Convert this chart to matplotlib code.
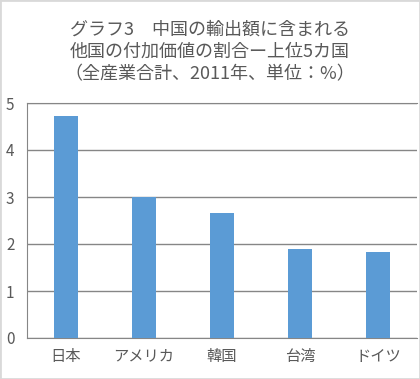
import matplotlib
matplotlib.use("Agg")
import matplotlib.pyplot as plt
from matplotlib.patches import Rectangle

plt.rcParams['font.family'] = ['Noto Sans CJK JP', 'DejaVu Sans']

countries = ["日本", "アメリカ", "韓国", "台湾", "ドイツ"]
shares = [4.73, 2.99, 2.67, 1.90, 1.82]
yticks = [0, 1, 2, 3, 4, 5]

title = "グラフ3　中国の輸出額に含まれる\n他国の付加価値の割合ー上位5カ国\n（全産業合計、2011年、単位：%）"

text_color = "#595959"
bar_color = "#5B9BD5"
grid_color = "#868686"

fig = plt.figure(figsize=(4.2, 3.79), dpi=100)
ax = fig.add_axes([27 / 420, 1 - 338 / 379, 390 / 420, 235 / 379])

x = range(len(countries))
ax.bar(x, shares, width=0.31, color=bar_color, zorder=3)

ax.set_xlim(-0.5, len(countries) - 0.5)
ax.set_ylim(0, 5)
ax.set_yticks(yticks)
ax.set_xticks(list(x))
ax.set_xticklabels(countries)
ax.yaxis.grid(True, color=grid_color, linewidth=1.0, zorder=0)
ax.tick_params(axis='both', length=0, colors=text_color, labelsize=11)
ax.tick_params(axis='x', pad=7)
ax.tick_params(axis='y', pad=9)

ax.spines["right"].set_visible(False)
for side in ["left", "bottom", "top"]:
    ax.spines[side].set_color(grid_color)

fig.text(0.5, 1 - 52 / 379, title, ha='center', va='center', fontsize=13,
         color=text_color, linespacing=1.3)

fig.patches.append(Rectangle((0, 0), 1, 1, transform=fig.transFigure,
                             fill=False, edgecolor="#d9d9d9", linewidth=2))

fig.savefig("out.png", dpi=100)
